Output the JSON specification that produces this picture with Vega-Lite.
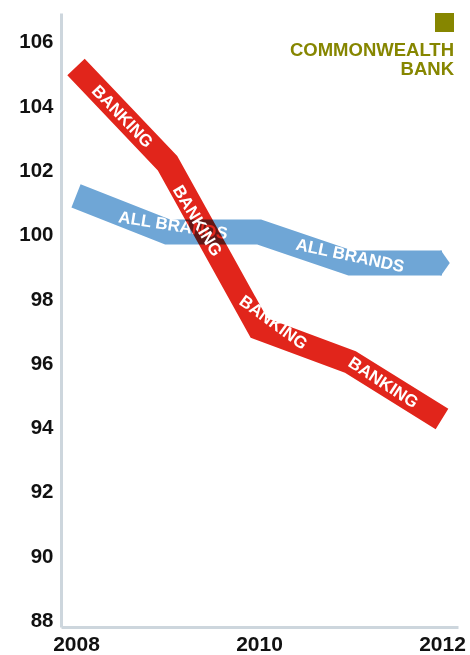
{
  "$schema": "https://vega.github.io/schema/vega-lite/v6.json",
  "width": 397,
  "height": 614,
  "autosize": {"type": "none"},
  "padding": {"left": 61, "top": 13, "right": 12, "bottom": 28},
  "background": "white",
  "config": {
    "font": "Liberation Sans",
    "view": {"stroke": null},
    "axis": {
      "grid": false,
      "ticks": false,
      "tickSize": 0,
      "domainColor": "#cdd6dd",
      "domainWidth": 3,
      "labelFont": "Liberation Sans",
      "labelFontWeight": "bold",
      "labelFontSize": 20.5,
      "labelColor": "#111111",
      "title": null
    }
  },
  "datasets": {
    "series": [
      {"series": "ALL BRANDS", "year": 2008, "value": 101.21},
      {"series": "ALL BRANDS", "year": 2009, "value": 100.09},
      {"series": "ALL BRANDS", "year": 2010, "value": 100.09},
      {"series": "ALL BRANDS", "year": 2011, "value": 99.12},
      {"series": "ALL BRANDS", "year": 2012, "value": 99.12},
      {"series": "BANKING", "year": 2008, "value": 105.22},
      {"series": "BANKING", "year": 2009, "value": 102.23},
      {"series": "BANKING", "year": 2010, "value": 97.1},
      {"series": "BANKING", "year": 2011, "value": 96.04},
      {"series": "BANKING", "year": 2012, "value": 94.27}
    ],
    "labels": [
      {"id": "b1", "series": "ALL BRANDS", "label": "ALL BRANDS", "year": 2009.06, "value": 100.28},
      {"id": "b2", "series": "ALL BRANDS", "label": "ALL BRANDS", "year": 2010.995, "value": 99.34},
      {"id": "r1", "series": "BANKING", "label": "BANKING", "year": 2008.503, "value": 103.67},
      {"id": "r2", "series": "BANKING", "label": "BANKING", "year": 2009.322, "value": 100.43},
      {"id": "r3", "series": "BANKING", "label": "BANKING", "year": 2010.153, "value": 97.26},
      {"id": "r4", "series": "BANKING", "label": "BANKING", "year": 2011.355, "value": 95.39}
    ]
  },
  "encoding": {
    "x": {
      "field": "year",
      "type": "quantitative",
      "scale": {"domain": [2007.836, 2012.175], "nice": false, "zero": false},
      "axis": {"values": [2008, 2010, 2012], "format": "d", "labelPadding": 6, "labelFontSize": 21}
    },
    "y": {
      "field": "value",
      "type": "quantitative",
      "scale": {"domain": [87.8, 106.9], "nice": false, "zero": false},
      "axis": {"values": [88, 90, 92, 94, 96, 98, 100, 102, 104, 106], "labelPadding": 8}
    }
  },
  "layer": [
    {
      "data": {"name": "series"},
      "transform": [{"filter": "datum.series === 'ALL BRANDS'"}],
      "mark": {"type": "line", "strokeWidth": 25, "strokeCap": "butt", "strokeJoin": "miter", "strokeMiterLimit": 10},
      "encoding": {
        "color": {
          "field": "series",
          "type": "nominal",
          "scale": {"domain": ["BANKING", "ALL BRANDS", "COMMONWEALTH BANK"], "range": ["#e1251b", "#6fa6d6", "#868600"]},
          "legend": {
            "values": ["COMMONWEALTH BANK"],
            "orient": "none",
            "legendX": 229,
            "legendY": 0,
            "padding": 0,
            "title": ["COMMONWEALTH", "BANK"],
            "titleOrient": "bottom",
            "titleAnchor": "end",
            "titleAlign": "right",
            "titleColor": "#868600",
            "titleFont": "Liberation Sans",
            "titleFontWeight": "bold",
            "titleFontSize": 18.5,
            "titleLineHeight": 19,
            "titlePadding": 9,
            "titleLimit": 400,
            "symbolType": "square",
            "symbolSize": 361,
            "symbolFillColor": "#868600",
            "symbolStrokeColor": "#868600",
            "symbolStrokeWidth": 0,
            "symbolOffset": 142,
            "labelExpr": "''",
            "labelOffset": 0,
            "encode": {"symbols": {"update": {"fill": {"value": "#868600"}, "stroke": {"value": "#868600"}, "opacity": {"value": 1}}}}
          }
        }
      }
    },
    {
      "data": {"name": "series"},
      "transform": [{"filter": "datum.series === 'ALL BRANDS' && datum.year === 2012"}],
      "mark": {"type": "point", "shape": "M-0.1,-1L0.6,0L-0.1,1Z", "filled": true, "size": 676, "color": "#6fa6d6", "opacity": 1, "strokeWidth": 0}
    },
    {
      "data": {"name": "labels"},
      "transform": [{"filter": "datum.id === 'b1'"}],
      "mark": {"type": "text", "angle": 9, "fontSize": 17, "fontWeight": "bold", "color": "white", "align": "center", "baseline": "middle"},
      "encoding": {"text": {"field": "label"}}
    },
    {
      "data": {"name": "labels"},
      "transform": [{"filter": "datum.id === 'b2'"}],
      "mark": {"type": "text", "angle": 12, "fontSize": 17, "fontWeight": "bold", "color": "white", "align": "center", "baseline": "middle"},
      "encoding": {"text": {"field": "label"}}
    },
    {
      "data": {"name": "series"},
      "transform": [{"filter": "datum.series === 'BANKING'"}],
      "mark": {"type": "line", "strokeWidth": 24, "strokeCap": "butt", "strokeJoin": "miter", "strokeMiterLimit": 10, "blend": "multiply"},
      "encoding": {
        "color": {"field": "series", "type": "nominal"}
      }
    },
    {
      "data": {"name": "labels"},
      "transform": [{"filter": "datum.id === 'r1'"}],
      "mark": {"type": "text", "angle": 46, "fontSize": 17, "fontWeight": "bold", "color": "white", "align": "center", "baseline": "middle"},
      "encoding": {"text": {"field": "label"}}
    },
    {
      "data": {"name": "labels"},
      "transform": [{"filter": "datum.id === 'r2'"}],
      "mark": {"type": "text", "angle": 59, "fontSize": 17, "fontWeight": "bold", "color": "white", "align": "center", "baseline": "middle"},
      "encoding": {"text": {"field": "label"}}
    },
    {
      "data": {"name": "labels"},
      "transform": [{"filter": "datum.id === 'r3'"}],
      "mark": {"type": "text", "angle": 36, "fontSize": 17, "fontWeight": "bold", "color": "white", "align": "center", "baseline": "middle"},
      "encoding": {"text": {"field": "label"}}
    },
    {
      "data": {"name": "labels"},
      "transform": [{"filter": "datum.id === 'r4'"}],
      "mark": {"type": "text", "angle": 33, "fontSize": 17, "fontWeight": "bold", "color": "white", "align": "center", "baseline": "middle"},
      "encoding": {"text": {"field": "label"}}
    }
  ]
}
